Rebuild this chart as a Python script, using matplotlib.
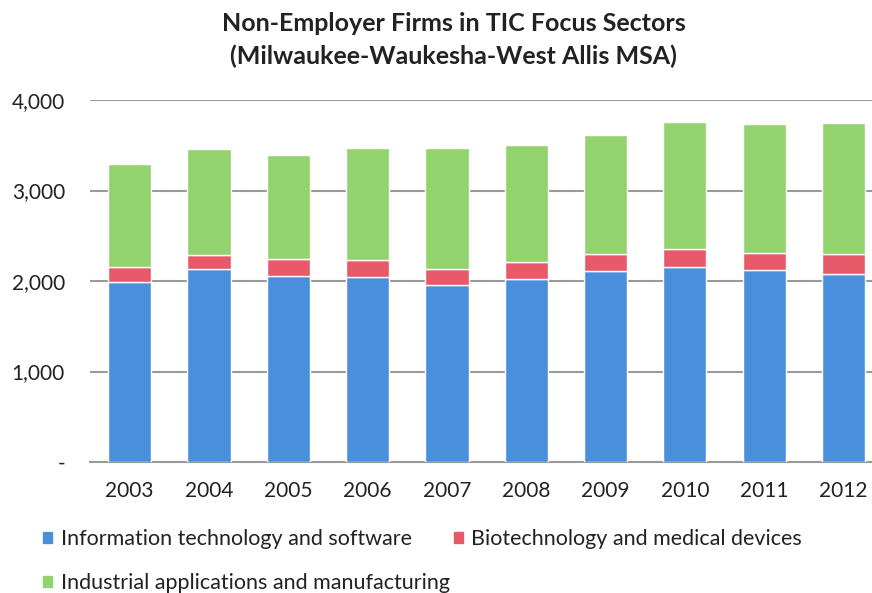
import numpy as np
import matplotlib.pyplot as plt
from matplotlib.patches import Patch

years = ['2003', '2004', '2005', '2006', '2007', '2008', '2009', '2010', '2011', '2012']
info_tech = [1990, 2130, 2060, 2045, 1960, 2020, 2110, 2155, 2120, 2080]
biotech = [170, 160, 180, 190, 175, 190, 190, 195, 190, 215]
industrial = [1130, 1170, 1150, 1235, 1335, 1290, 1310, 1405, 1420, 1455]
y_ticks = [0, 1000, 2000, 3000, 4000]
y_labels = ['-', '1,000', '2,000', '3,000', '4,000']

labels = ['Information technology and software',
          'Biotechnology and medical devices',
          'Industrial applications and manufacturing']
colors = ['#4a8fdc', '#e8596a', '#92d36e']

plt.rcParams['font.family'] = ['Lato', 'DejaVu Sans']

fig = plt.figure(figsize=(8.72, 5.93), dpi=100)
ax = fig.add_axes([90 / 872, 131 / 593, 1 - 90 / 872, 362 / 593])

x = np.arange(len(years))
w = 0.545
bottom2 = np.array(info_tech) + np.array(biotech)
ax.bar(x, info_tech, w, color=colors[0], edgecolor='white', linewidth=1, zorder=3)
ax.bar(x, biotech, w, bottom=info_tech, color=colors[1], edgecolor='white', linewidth=1, zorder=3)
ax.bar(x, industrial, w, bottom=bottom2, color=colors[2], edgecolor='white', linewidth=1, zorder=3)

ax.set_xlim(-0.5, 9.36)
ax.set_ylim(0, 4000)
ax.set_yticks(y_ticks)
ax.set_yticklabels(y_labels, fontsize=15, color='#222222')
ax.set_xticks(x)
ax.set_xticklabels(years, fontsize=15, color='#222222')
ax.tick_params(length=0)
ax.tick_params(axis='x', pad=14)
ax.tick_params(axis='y', pad=18)
ax.yaxis.grid(True, color='#9a9a9a', linewidth=1.5, zorder=0)
for s in ['top', 'right', 'left']:
    ax.spines[s].set_visible(False)
ax.spines['bottom'].set_color('#9a9a9a')
ax.spines['bottom'].set_linewidth(1.5)

fig.text(0.52, 0.960, 'Non-Employer Firms in TIC Focus Sectors', ha='center', va='center',
         fontsize=18, fontweight='bold', color='#222222')
fig.text(0.52, 0.905, '(Milwaukee-Waukesha-West Allis MSA)', ha='center', va='center',
         fontsize=18, fontweight='bold', color='#222222')

handles = [Patch(color=colors[0]), Patch(color=colors[2]), Patch(color=colors[1])]
order = [labels[0], labels[2], labels[1]]
fig.legend(handles, order, ncol=2, loc='upper left', bbox_to_anchor=(0.04, 0.122),
           frameon=False, fontsize=15.5, handlelength=0.4, handleheight=0.4,
           handletextpad=0.4, columnspacing=0.2, labelspacing=1.1, labelcolor='#222222',
           borderaxespad=0)

fig.savefig('out.png', dpi=100)
